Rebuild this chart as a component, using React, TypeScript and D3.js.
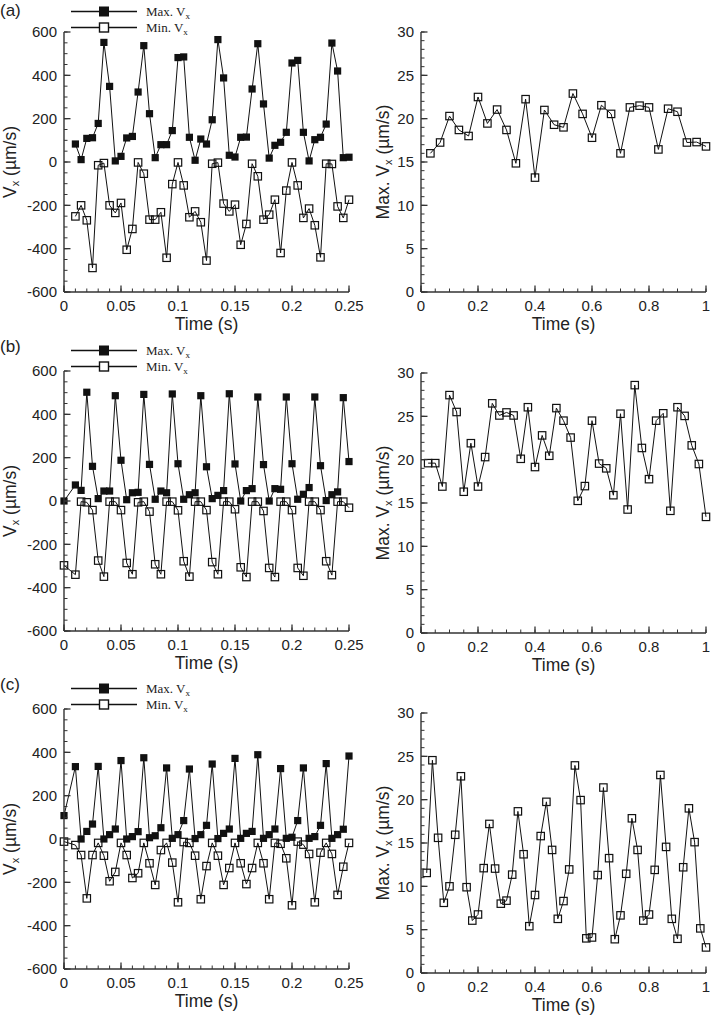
import React from 'react';
import * as d3 from 'd3';

// time stamps (s)
const tA = [0.01, 0.015, 0.02, 0.025, 0.03, 0.035, 0.04, 0.045, 0.05, 0.055, 0.06, 0.065, 0.07, 0.075, 0.08, 0.085, 0.09, 0.095, 0.1, 0.105, 0.11, 0.115, 0.12, 0.125, 0.13, 0.135, 0.14, 0.145, 0.15, 0.155, 0.16, 0.165, 0.17, 0.175, 0.18, 0.185, 0.19, 0.195, 0.2, 0.205, 0.21, 0.215, 0.22, 0.225, 0.23, 0.235, 0.24, 0.245, 0.25];
const tBC = [0, ...tA];
const t30 = [0.033, 0.067, 0.1, 0.133, 0.167, 0.2, 0.233, 0.267, 0.3, 0.333, 0.367, 0.4, 0.433, 0.467, 0.5, 0.533, 0.567, 0.6, 0.633, 0.667, 0.7, 0.733, 0.767, 0.8, 0.833, 0.867, 0.9, 0.933, 0.967, 1];
const t40 = [0.025, 0.05, 0.075, 0.1, 0.125, 0.15, 0.175, 0.2, 0.225, 0.25, 0.275, 0.3, 0.325, 0.35, 0.375, 0.4, 0.425, 0.45, 0.475, 0.5, 0.525, 0.55, 0.575, 0.6, 0.625, 0.65, 0.675, 0.7, 0.725, 0.75, 0.775, 0.8, 0.825, 0.85, 0.875, 0.9, 0.925, 0.95, 0.975, 1];
const t50 = [0.02, 0.04, 0.06, 0.08, 0.1, 0.12, 0.14, 0.16, 0.18, 0.2, 0.22, 0.24, 0.26, 0.28, 0.3, 0.32, 0.34, 0.36, 0.38, 0.4, 0.42, 0.44, 0.46, 0.48, 0.5, 0.52, 0.54, 0.56, 0.58, 0.6, 0.62, 0.64, 0.66, 0.68, 0.7, 0.72, 0.74, 0.76, 0.78, 0.8, 0.82, 0.84, 0.86, 0.88, 0.9, 0.92, 0.94, 0.96, 0.98, 1];

// (a)
const maxA = [83, 11, 109, 112, 178, 552, 349, 5, 26, 111, 118, 323, 537, 223, 20, 80, 80, 145, 482, 485, 114, 8, 106, 83, 195, 565, 388, 31, 23, 114, 115, 337, 546, 268, 18, 77, 91, 137, 457, 469, 137, 5, 103, 114, 175, 549, 420, 20, 22];
const minA = [-251, -200, -269, -489, -15, -5, -200, -235, -189, -405, -309, -2, -54, -266, -266, -232, -442, -102, -2, -108, -255, -228, -278, -455, -8, -3, -192, -228, -197, -382, -286, -8, -66, -266, -243, -174, -420, -132, -2, -108, -258, -215, -292, -440, -8, -9, -205, -258, -174];
const peakA = [16.0, 17.25, 20.3, 18.7, 18.0, 22.5, 19.45, 21.05, 18.7, 14.85, 22.25, 13.2, 21.0, 19.3, 19.0, 22.9, 20.55, 17.8, 21.55, 20.55, 16.0, 21.3, 21.5, 21.3, 16.45, 21.15, 20.8, 17.25, 17.3, 16.8];

// (b)
const maxB = [0, 74, 49, 502, 160, 11, 46, 46, 486, 188, 6, 38, 40, 492, 169, 8, 46, 38, 494, 172, 8, 29, 38, 486, 158, 11, 26, 48, 495, 171, 0, 48, 57, 480, 168, 0, 57, 54, 480, 172, 8, 31, 62, 480, 163, 2, 29, 42, 477, 182];
const minB = [-297, -340, -3, -6, -42, -275, -349, -3, -3, -42, -286, -338, -6, -3, -49, -292, -338, -3, -3, -43, -278, -349, -3, -3, -42, -282, -338, -3, -3, -38, -306, -351, -3, -3, -46, -309, -351, -3, -3, -42, -309, -345, -3, -3, -42, -278, -342, -3, -3, -31];
const peakB = [19.6, 19.6, 16.9, 27.45, 25.5, 16.3, 21.9, 16.9, 20.3, 26.5, 25.1, 25.45, 25.1, 20.1, 26.05, 19.15, 22.8, 20.45, 25.95, 24.5, 22.55, 15.25, 16.95, 24.5, 19.55, 19.0, 15.9, 25.3, 14.25, 28.6, 21.35, 17.75, 24.5, 25.35, 14.1, 26.05, 25.05, 21.65, 19.5, 13.4];

// (c)
const maxC = [108, 334, 0, 35, 69, 335, 0, 20, 46, 362, 0, 11, 34, 375, 6, 15, 52, 328, 3, 20, 85, 323, 2, 20, 63, 346, 2, 26, 46, 372, 3, 26, 35, 389, 3, 20, 46, 325, 3, 8, 85, 328, 3, 11, 63, 348, 3, 20, 45, 383];
const minC = [-12, -28, -74, -274, -74, -18, -77, -195, -152, -18, -74, -180, -158, -18, -112, -212, -51, -18, -109, -292, -14, -18, -77, -278, -125, -18, -77, -212, -134, -18, -112, -208, -134, -18, -112, -278, -18, -22, -89, -306, -12, -26, -69, -292, -63, -18, -69, -258, -128, -18];
const peakC = [11.55, 24.55, 15.6, 8.1, 10.0, 15.95, 22.7, 9.9, 6.05, 6.75, 12.1, 17.2, 12.05, 8.0, 8.35, 11.35, 18.65, 13.7, 5.4, 9.0, 15.8, 19.75, 14.2, 6.25, 8.3, 11.95, 23.95, 19.95, 4.0, 4.1, 11.3, 21.4, 13.25, 3.9, 6.65, 11.45, 17.85, 14.2, 6.05, 6.75, 11.9, 22.85, 14.55, 6.25, 3.95, 12.2, 19.0, 15.1, 5.15, 2.95];

const panelLabels = ['(a)', '(b)', '(c)'];
const leftXTicks = [0, 0.05, 0.1, 0.15, 0.2, 0.25];
const leftYTicks = [-600, -400, -200, 0, 200, 400, 600];
const rightXTicks = [0, 0.2, 0.4, 0.6, 0.8, 1];
const rightYTicks = [0, 5, 10, 15, 20, 25, 30];

const SANS = '"Liberation Sans", Arial, sans-serif';
const SERIF = '"Liberation Serif", "Times New Roman", serif';
const AXIS = '#333';
const INK = '#111';

type Series = { t: number[]; v: number[]; filled: boolean };

type PanelProps = {
  x0: number; x1: number; top: number; bottom: number;
  xDomain: [number, number]; yDomain: [number, number];
  xTicks: number[]; yTicks: number[]; xMinor: number; yMinor: number;
  series: Series[]; yTitle: string; titleX: number;
};

const Panel = ({ x0, x1, top, bottom, xDomain, yDomain, xTicks, yTicks, xMinor, yMinor, series, yTitle, titleX }: PanelProps) => {
  const x = d3.scaleLinear().domain(xDomain).range([x0, x1]);
  const y = d3.scaleLinear().domain(yDomain).range([bottom, top]);
  const xm = d3.range(xDomain[0], xDomain[1] + xMinor / 2, xMinor);
  const ym = d3.range(yDomain[0], yDomain[1] + yMinor / 2, yMinor);
  const cy = (top + bottom) / 2;
  return (
    <g>
      {series.map((s, i) => {
        const pts = s.t.map((t, j) => [x(t), y(s.v[j])] as [number, number]);
        return (
          <g key={i}>
            <path d={d3.line()(pts) || ''} fill="none" stroke={INK} strokeWidth={1} />
            {pts.map(([px, py], j) =>
              s.filled
                ? <rect key={j} x={px - 3.6} y={py - 3.6} width={7.2} height={7.2} fill={INK} />
                : <rect key={j} x={px - 3.7} y={py - 3.7} width={7.4} height={7.4} fill="none" stroke={INK} strokeWidth={1.2} />
            )}
          </g>
        );
      })}
      {/* axes */}
      <line x1={x0} x2={x1} y1={bottom} y2={bottom} stroke={AXIS} strokeWidth={1.4} />
      <line x1={x0} x2={x0} y1={top} y2={bottom} stroke={AXIS} strokeWidth={1.4} />
      {xm.map((v, i) => <line key={'xm' + i} x1={x(v)} x2={x(v)} y1={bottom} y2={bottom - 3.5} stroke={AXIS} strokeWidth={1} />)}
      {ym.map((v, i) => <line key={'ym' + i} x1={x0} x2={x0 + 3.5} y1={y(v)} y2={y(v)} stroke={AXIS} strokeWidth={1} />)}
      {xTicks.map((v, i) => (
        <g key={'xt' + i}>
          <line x1={x(v)} x2={x(v)} y1={bottom} y2={bottom - 6.5} stroke={AXIS} strokeWidth={1.3} />
          <text x={x(v)} y={bottom + 19} textAnchor="middle" fontFamily={SANS} fontSize={15} fill="#222">{String(v)}</text>
        </g>
      ))}
      {yTicks.map((v, i) => (
        <g key={'yt' + i}>
          <line x1={x0} x2={x0 + 6.5} y1={y(v)} y2={y(v)} stroke={AXIS} strokeWidth={1.3} />
          <text x={x0 - 7} y={y(v)} dy="0.36em" textAnchor="end" fontFamily={SANS} fontSize={15} fill="#222">{String(v)}</text>
        </g>
      ))}
      <text x={(x0 + x1) / 2} y={bottom + 38} textAnchor="middle" fontFamily={SANS} fontSize={17.5} fill="#222">Time (s)</text>
      <text transform={`translate(${titleX},${cy}) rotate(-90)`} textAnchor="middle" fontFamily={SANS} fontSize={17.5} fill="#222">
        {yTitle}V<tspan fontSize={11} dy={3}>x</tspan><tspan dy={-3}> (µm/s)</tspan>
      </text>
    </g>
  );
};

const Legend = ({ top }: { top: number }) => {
  const rows = [
    { label: 'Max. V', filled: true, y: top - 20.5 },
    { label: 'Min. V', filled: false, y: top - 4.5 },
  ];
  return (
    <g>
      {rows.map((r, i) => (
        <g key={i}>
          <line x1={71} x2={137} y1={r.y} y2={r.y} stroke={INK} strokeWidth={1.3} />
          {r.filled
            ? <rect x={99} y={r.y - 5} width={10} height={10} fill={INK} />
            : <rect x={99.5} y={r.y - 4.5} width={9} height={9} fill="#fff" stroke={INK} strokeWidth={1.4} />}
          <text x={146} y={r.y} dy="0.33em" fontFamily={SERIF} fontSize={13} fill="#222">
            {r.label}<tspan fontSize={9} dy={3}>x</tspan>
          </text>
        </g>
      ))}
    </g>
  );
};

const rows = [
  { lt: 32, rt: 32, max: maxA, min: minA, tl: tA, peak: peakA, tr: t30 },
  { lt: 371, rt: 373, max: maxB, min: minB, tl: tBC, peak: peakB, tr: t40 },
  { lt: 709, rt: 713, max: maxC, min: minC, tl: tBC, peak: peakC, tr: t50 },
];

export default function App() {
  return (
    <svg width={714} height={1019} style={{ position: 'absolute', left: 0, top: 0, background: '#fff' }}>
      <rect width={714} height={1019} fill="#fff" />
      {rows.map((r, i) => (
        <g key={i}>
          <text x={0} y={Math.max(r.lt - 19, 15.5)} fontFamily={SANS} fontSize={17} fill="#222">{panelLabels[i]}</text>
          <Panel x0={64} x1={349} top={r.lt} bottom={r.lt + 260}
            xDomain={[0, 0.25]} yDomain={[-600, 600]} xTicks={leftXTicks} yTicks={leftYTicks}
            xMinor={0.01} yMinor={50} titleX={16} yTitle=""
            series={[{ t: r.tl, v: r.max, filled: true }, { t: r.tl, v: r.min, filled: false }]} />
          <Legend top={r.lt} />
          <Panel x0={421} x1={706} top={r.rt} bottom={r.rt + 260}
            xDomain={[0, 1]} yDomain={[0, 30]} xTicks={rightXTicks} yTicks={rightYTicks}
            xMinor={0.05} yMinor={1} titleX={389} yTitle="Max. "
            series={[{ t: r.tr, v: r.peak, filled: false }]} />
        </g>
      ))}
    </svg>
  );
}
